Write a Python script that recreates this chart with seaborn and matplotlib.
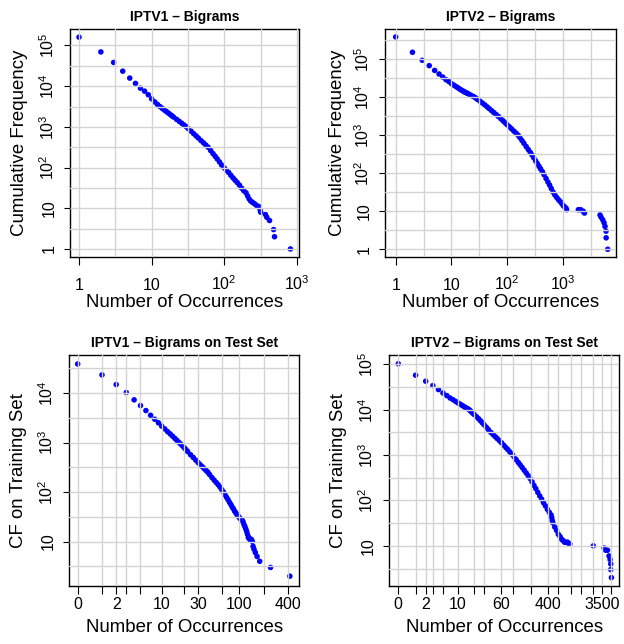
import numpy as np
import pandas as pd
import matplotlib
matplotlib.use("Agg")
import matplotlib.pyplot as plt
import seaborn as sns
from matplotlib.ticker import FixedLocator, NullLocator, FuncFormatter

# ---------------- data ----------------
iptv1_x = [1, 2, 3, 4, 5, 6, 7, 8, 9, 10, 11, 12, 13, 14, 15, 16, 17, 18, 19, 20,
           22, 24, 26, 28, 30, 32, 35, 38, 41, 44, 48, 52, 56, 60, 65, 70, 75, 80,
           86, 92, 100, 107, 115, 123, 132, 141, 151, 162, 174, 186, 200, 210, 220,
           232, 245, 260, 275, 290, 300, 313, 318, 370, 386, 421, 479, 493, 817]
iptv1_y = [160000, 69500, 38300, 23400, 15800, 11700, 8950, 7560, 6160, 4900,
           4120, 3590, 3160, 2850, 2590, 2370, 2190, 2020, 1875, 1750,
           1540, 1370, 1230, 1110, 1010, 908, 782, 681, 600, 533, 459, 404, 355, 316,
           263, 221, 190, 164, 138, 116, 98, 86, 76, 65, 56, 49, 43, 37, 31, 27, 24,
           20, 17, 15, 14, 13, 12, 11, 11, 9, 8, 7, 6, 5, 3, 2, 1]

iptv2_x = [1, 2, 3, 4, 5, 6, 7, 8, 9, 10, 11, 12, 13, 14, 15, 16, 17, 18, 19, 20,
           22, 24, 26, 28, 30, 33, 36, 40, 44, 48, 53, 58, 64, 70, 77, 85, 93, 100,
           110, 120, 132, 145, 158, 170, 185, 200, 220, 240, 260, 280, 300, 325, 350,
           375, 400, 430, 460, 500, 540, 580, 620, 670, 720, 780, 840, 900, 960, 1020,
           1080, 1140, 1170, 1900, 2100, 2330, 2450, 4660, 4850, 5200, 5500, 5730,
           5970, 6000, 6400]
iptv2_y = [387000, 153000, 94000, 68000, 51000, 41000, 34000, 29000, 26000, 22900,
           20900, 19300, 17900, 16600, 15600, 14700, 14000, 13400, 12900, 12400,
           11500, 10700, 10100, 9330, 8650, 7770, 7060, 6270, 5570, 5000, 4420, 3950,
           3490, 3110, 2740, 2390, 2110, 1900, 1670, 1480, 1290, 1140, 1000, 867, 726,
           617, 506, 422, 356, 304, 258, 213, 179, 152, 130, 110, 92, 73, 59, 49, 40,
           32, 27, 23, 20, 18, 16, 14, 13, 12, 11, 11, 11, 10, 9, 8, 7, 6, 5, 4, 3, 2, 1]

iptv1_test_x = [0, 1, 2, 3, 4, 5, 6, 7, 8, 9, 10, 11, 12, 13, 14, 15, 16, 17, 18, 19,
                20, 21, 22, 24, 26, 28, 30, 32, 34, 36, 38, 40, 42, 45, 48, 51, 54, 57,
                60, 63, 66, 69, 72, 75, 78, 81, 84, 87, 90, 93, 96, 99, 102, 105, 108,
                111, 114, 117, 120, 123, 126, 129, 132, 135, 138, 141, 145, 148, 152,
                158, 166, 179, 244, 424]
iptv1_test_y = [38600, 23200, 14800, 10200, 7270, 5570, 4420, 3550, 2950, 2500,
                2140, 1880, 1660, 1490, 1340, 1210, 1100, 1000, 920, 848, 777, 715, 658,
                567, 500, 442, 394, 355, 324, 296, 272, 251, 226, 197, 174, 156, 141,
                126, 112, 100, 88, 78, 70, 62, 56, 50, 46, 41, 38, 35, 33, 31, 29, 28,
                27, 25, 22, 20, 18, 16, 14, 12, 12, 11, 11, 11, 10, 8, 7, 6, 5, 4, 3, 2]

iptv2_test_x = [0, 1, 2, 3, 4, 5, 6, 7, 8, 9, 10, 11, 12, 13, 14, 15, 16, 17, 18, 19,
                20, 22, 24, 26, 28, 30, 33, 36, 40, 44, 48, 52, 57, 62, 68, 74, 80, 87,
                95, 103, 112, 122, 132, 143, 155, 168, 182, 197, 213, 230, 248, 268,
                290, 313, 338, 365, 394, 425, 458, 470, 480, 493, 530, 570, 612, 656,
                700, 745, 790, 840, 890, 940, 975, 2500, 3840, 4100, 4400, 4690, 4890,
                5020, 5020, 5160]
iptv2_test_y = [103000, 57600, 42500, 34000, 27800, 23400, 20500, 18100, 16600, 15200,
                14100, 13200, 12400, 11700, 11100, 10600, 10100, 9460, 8850, 8320, 7850,
                7020, 6340, 5710, 5170, 4710, 4130, 3660, 3160, 2820, 2540, 2310, 2070,
                1860, 1640, 1460, 1320, 1170, 1040, 912, 795, 690, 607, 532, 464, 404,
                353, 304, 257, 214, 182, 151, 126, 107, 89, 76, 64, 55, 48, 42, 36, 32,
                26, 22, 18, 16, 14, 13, 12, 12, 12, 11, 11, 10, 9, 8, 8, 6, 5, 4, 3, 2]

titles = ["IPTV1 \u2013 Bigrams", "IPTV2 \u2013 Bigrams",
          "IPTV1 \u2013 Bigrams on Test Set", "IPTV2 \u2013 Bigrams on Test Set"]
xlabel_text = "Number of Occurrences"
ylabels = ["Cumulative Frequency", "Cumulative Frequency",
           "CF on Training Set", "CF on Training Set"]

top_xticks = [1, 10, 100, 1000]
top_xticklabels = ["1", "10", "$10^{2}$", "$10^{3}$"]
test1_xticks = [0, 1, 2, 3, 5, 10, 20, 30, 60, 100, 200, 400]
test1_xticklabels = ["0", "", "2", "", "", "10", "", "30", "", "100", "", "400"]
test2_xticks = [0, 1, 2, 3, 5, 10, 20, 30, 60, 100, 200, 400, 600, 1000, 1500, 2500,
                3500, 5000]
test2_xticklabels = ["0", "", "2", "", "", "10", "", "", "60", "", "", "400", "", "",
                     "", "", "3500", ""]

# ---------------- style ----------------
sns.set_style("white")
plt.rcParams['font.family'] = ['Liberation Sans', 'DejaVu Sans']
plt.rcParams['mathtext.fontset'] = 'custom'
plt.rcParams['mathtext.rm'] = 'Liberation Sans'
plt.rcParams['mathtext.it'] = 'Liberation Sans:italic'
plt.rcParams['mathtext.bf'] = 'Liberation Sans:bold'
for key in ('text.color', 'axes.labelcolor', 'xtick.color', 'ytick.color',
            'axes.edgecolor', 'xtick.labelcolor', 'ytick.labelcolor'):
    plt.rcParams[key] = 'black'

W, H = 624, 644
fig = plt.figure(figsize=(W / 100, H / 100), dpi=100)


def add_ax(l, t, r, b):
    return fig.add_axes([l / W, 1 - b / H, (r - l) / W, (b - t) / H])


GRID = '#d3d3d3'
BLUE = '#0000ff'


def ylog_fmt(v, pos):
    k = int(round(np.log10(v)))
    if k == 0:
        return "1"
    if k == 1:
        return "10"
    return "$10^{%d}$" % k


def fwd(x):
    x = np.asarray(x, dtype=float)
    return np.log10(np.maximum(x, -0.999999) + 1)


def inv(t):
    return 10 ** np.asarray(t, dtype=float) - 1


def common(ax, title, ylabel, ylim_log, ylabel_x, xlabel_y):
    ax.set_yscale('log')
    ax.set_ylim(10 ** ylim_log[0], 10 ** ylim_log[1])
    lo, hi = int(np.ceil(ylim_log[0])), int(np.floor(ylim_log[1]))
    ax.yaxis.set_major_locator(FixedLocator([10.0 ** k for k in range(max(lo, 0), hi + 1)]))
    ax.yaxis.set_major_formatter(FuncFormatter(ylog_fmt))
    halves = 10 ** (np.arange(np.floor(ylim_log[0]), ylim_log[1], 0.5))
    ax.yaxis.set_minor_locator(FixedLocator(halves))
    ax.yaxis.set_minor_formatter(FuncFormatter(lambda v, p: ""))
    ax.tick_params(axis='y', which='major', direction='out', length=4.2, width=0.8,
                   labelsize=11.5, pad=5.5, labelrotation=90, left=True, color='black',
                   labelcolor='black')
    for lab in ax.get_yticklabels():
        lab.set_va('center')
    ax.tick_params(which='minor', length=0)
    ax.grid(True, which='both', color=GRID, linewidth=1.0)
    ax.set_axisbelow(False)
    for sp in ax.spines.values():
        sp.set_color('black')
        sp.set_linewidth(1.0)
        sp.set_visible(True)
    ax.set_title(title, fontsize=10, fontweight='bold', pad=6, color='black')
    ax.set_ylabel(ylabel, fontsize=13.4, color='black')
    ax.set_xlabel(xlabel_text, fontsize=13.4, color='black')
    ax.yaxis.set_label_coords(ylabel_x, 0.5)
    ax.xaxis.set_label_coords(0.5, xlabel_y)


def scatter(ax, xs, ys):
    df = pd.DataFrame({'x': xs, 'y': ys})
    sns.scatterplot(data=df, x='x', y='y', ax=ax, color=BLUE, s=16,
                    linewidth=0, edgecolor='none', zorder=1)


# ---- panel 1 ----
ax1 = add_ax(70, 29, 299, 257)
scatter(ax1, iptv1_x, iptv1_y)
ax1.set_xscale('log')
ax1.set_xlim(10 ** -0.124, 10 ** 3.03)
# ---- panel 2 ----
ax2 = add_ax(385, 29, 616, 257)
scatter(ax2, iptv2_x, iptv2_y)
ax2.set_xscale('log')
ax2.set_xlim(10 ** -0.192, 10 ** 3.955)

for ax, lim in ((ax1, (-0.124, 3.03)), (ax2, (-0.192, 3.955))):
    ax.xaxis.set_major_locator(FixedLocator(top_xticks))
    ax.set_xticklabels(top_xticklabels)
    ax.xaxis.set_minor_locator(FixedLocator(10 ** np.arange(0, lim[1], 0.5)))
    ax.xaxis.set_minor_formatter(FuncFormatter(lambda v, p: ""))
    ax.tick_params(axis='x', which='major', direction='out', length=5.6, width=0.8,
                   labelsize=11.5, pad=18, bottom=True, color='black', labelcolor='black')
    for lab in ax.get_xticklabels():
        lab.set_va('baseline')

common(ax1, titles[0], ylabels[0], (-0.197, 5.405), -0.183, -0.162)
common(ax2, titles[1], ylabels[1], (-0.203, 5.797), -0.169, -0.162)

# ---- panel 3 ----
ax3 = add_ax(69.3, 355, 299, 585.5)
scatter(ax3, iptv1_test_x, iptv1_test_y)
ax3.set_xscale('function', functions=(fwd, inv))
ax3.set_xlim(inv(-0.104), inv(2.742))
ax3.xaxis.set_major_locator(FixedLocator(test1_xticks))
ax3.set_xticklabels(test1_xticklabels)

# ---- panel 4 ----
ax4 = add_ax(389.3, 355, 619.3, 585.5)
scatter(ax4, iptv2_test_x, iptv2_test_y)
ax4.set_xscale('function', functions=(fwd, inv))
ax4.set_xlim(inv(-0.157), inv(3.85))
ax4.xaxis.set_major_locator(FixedLocator(test2_xticks))
ax4.set_xticklabels(test2_xticklabels)

for ax in (ax3, ax4):
    ax.xaxis.set_minor_locator(NullLocator())
    ax.tick_params(axis='x', which='major', direction='out', length=5.6, width=0.8,
                   labelsize=11.5, pad=11.5, bottom=True, color='black', labelcolor='black')
    for lab in ax.get_xticklabels():
        lab.set_va('baseline')

common(ax3, titles[2], ylabels[2], (0.113, 4.767), -0.184, -0.144)
common(ax4, titles[3], ylabels[3], (0.126, 5.206), -0.184, -0.144)

fig.savefig("out.png", dpi=100)
